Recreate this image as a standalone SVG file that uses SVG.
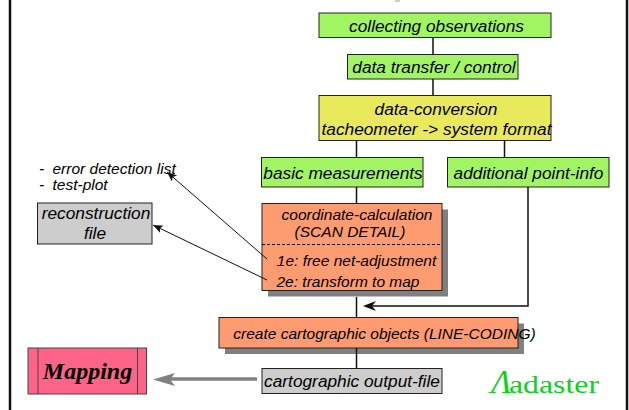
<svg xmlns="http://www.w3.org/2000/svg" width="629" height="410" viewBox="0 0 629 410">
<defs>
<style>
text{font-family:"Liberation Sans",Arial,sans-serif;font-style:italic;fill:#000;text-anchor:middle}
.t15{font-size:17.300px}.t13{font-size:15.500px}
.box{stroke:#222;stroke-width:1}
.g{fill:#a2f562}.y{fill:#e9e95c}.o{fill:#ff9b70}.s{fill:#cdcdcd}
.sh{fill:#808080}
.c{fill:none;stroke:#111;stroke-width:1.5}
.a{fill:none;stroke:#111;stroke-width:1}
</style>
<marker id="ah" markerWidth="12" markerHeight="10" refX="10" refY="4" orient="auto" markerUnits="userSpaceOnUse"><path d="M0,0L10,4L0,8L2.5,4Z" fill="#111"/></marker>
</defs>
<rect width="629" height="410" fill="#fff"/>
<g id="frame"><path d="M10,0V410M627,0V410" stroke="#111" stroke-width="2.5" fill="none"/><path d="M395,1H400" stroke="#ccc" stroke-width="2" fill="none"/></g>
<g id="n1"><rect class="box g" x="319" y="13" width="232" height="24.500"/><text class="t15" x="436.500" y="32">collecting observations</text></g>
<g id="n2"><rect class="box g" x="347.500" y="54.500" width="170.500" height="24.500"/><text class="t15" x="434" y="73">data transfer / control</text></g>
<g id="n3"><rect class="box y" x="319" y="95.500" width="232" height="45"/><text class="t15" x="436" y="115">data-conversion</text><text class="t15" x="436.500" y="135">tacheometer -&gt; system format</text></g>
<g id="n4"><rect class="box g" x="261.500" y="157.500" width="161.500" height="29.500"/><text class="t15" x="343" y="179">basic measurements</text></g>
<g id="n5"><rect class="box g" x="447.500" y="157.500" width="161.500" height="29.500"/><text class="t15" x="528.500" y="179">additional point-info</text></g>
<g id="n6"><rect class="sh" x="268" y="209.500" width="180" height="87"/><rect class="box o" x="262" y="203.500" width="180" height="87"/><path d="M262,244.500H442" stroke="#111" stroke-dasharray="3 2" fill="none"/><text class="t13" x="357" y="220">coordinate-calculation</text><text class="t13" x="350" y="236.500">(SCAN DETAIL)</text><text class="t13" x="356.500" y="266">1e: free net-adjustment</text><text class="t13" x="348" y="287">2e: transform to map</text></g>
<g id="n7"><rect class="sh" x="225" y="323.500" width="299" height="30.500"/><rect class="box o" x="219" y="317.500" width="299" height="30.500"/><text class="t13" x="384.500" y="339">create cartographic objects (LINE-CODING)</text></g>
<g id="n8"><rect class="box s" x="262" y="368.500" width="180" height="25"/><text class="t15" x="352" y="387">cartographic output-file</text></g>
<g id="n9"><rect class="box s" x="37.500" y="203" width="114.500" height="41"/><text class="t15" x="96" y="219">reconstruction</text><text class="t15" x="95" y="239">file</text></g>
<g id="n10"><rect x="28" y="348" width="118.500" height="46" fill="#ff6488" stroke="#444"/><path d="M38,348V394M137.500,348V394" stroke="#444" fill="none"/><text x="87.500" y="379" style="font-family:'Liberation Serif',serif;font-weight:bold;font-size:24px">Mapping</text></g>
<g id="n11"><text class="t13" x="39" y="174" style="text-anchor:start">-</text><text class="t13" x="52.500" y="174" style="text-anchor:start">error detection list</text><text class="t13" x="39" y="190" style="text-anchor:start">-</text><text class="t13" x="52.500" y="190" style="text-anchor:start">test-plot</text></g>
<g id="logo"><text x="491" y="393" style="font-family:'Liberation Serif',serif;font-size:34px;fill:#0fd01f;text-anchor:start">Λ</text><text x="509" y="393" style="font-family:'Liberation Serif',serif;font-style:normal;font-size:26px;fill:#0fd01f;text-anchor:start" textLength="90" lengthAdjust="spacingAndGlyphs">adaster</text></g>
<g id="connectors">
<path class="c" d="M433,37.500V54.500M433,79V95.500M356.500,140.500V157.500M504.500,140.500V157.500M356.500,187V203.500M356.500,297V317.500M356.500,348V368.500"/>
<path class="c" d="M528,187V306H372"/>
<path d="M363,306L376,301L372,306L376,311Z" fill="#111"/>
<path class="a" d="M267,259L167,172" marker-end="url(#ah)"/>
<path class="a" d="M267,280L153,225" marker-end="url(#ah)"/>
<path d="M257,379H170" stroke="#808080" stroke-width="3.500" fill="none"/>
<path d="M153,379.500L175,373L170,379.500L175,386Z" fill="#808080"/>
</g>
</svg>
